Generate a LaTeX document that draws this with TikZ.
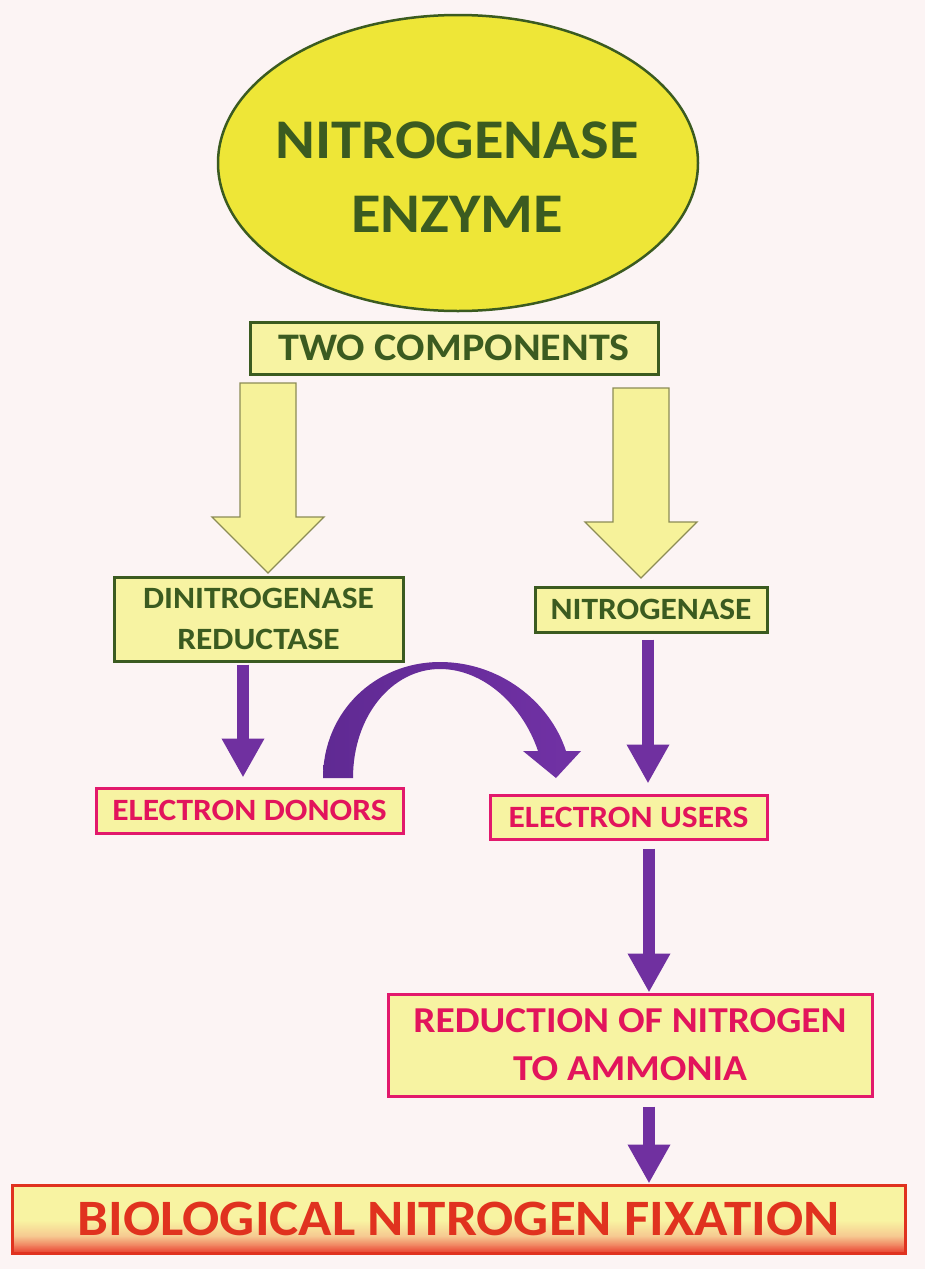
\documentclass[tikz,border=0pt]{standalone}
\usepackage{fontspec}
\setmainfont{Carlito}[FakeStretch=1.08]
\usetikzlibrary{arrows.meta,shapes.geometric,calc}
\definecolor{bgpink}{HTML}{FCF4F4}
\definecolor{dgreen}{HTML}{3B5B20}
\definecolor{eyellow}{HTML}{EEE637}
\definecolor{lyellow}{HTML}{F7F3A2}
\definecolor{ayellow}{HTML}{F6F29A}
\definecolor{aborder}{HTML}{8C8C55}
\definecolor{mborder}{HTML}{E2196C}
\definecolor{mtext}{HTML}{E2145C}
\definecolor{purp}{HTML}{7030A0}
\definecolor{purpdark}{HTML}{57268A}
\definecolor{purplight}{HTML}{7A35AE}
\definecolor{bred}{HTML}{E0321F}
\definecolor{bbot}{HTML}{E8402E}
\definecolor{bmid}{HTML}{F07A5A}
\definecolor{bmid2}{HTML}{F6C890}
\definecolor{btop}{HTML}{F8F3A2}
\pgfdeclarehorizontalshading{curveshade}{100bp}{color(0bp)=(purpdark); color(100bp)=(purplight)}
\tikzset{
  gbox/.style={draw=dgreen, line width=3pt, fill=lyellow, inner sep=0pt, text=dgreen, align=center},
  mbox/.style={draw=mborder, line width=3pt, fill=lyellow, inner sep=0pt, text=mtext, align=center},
  parrow/.style={draw=purp, line width=12pt, -{Triangle[width=40pt,length=39pt]}},
  yarr/.style={fill=ayellow, draw=aborder, line width=1.3pt, line join=miter},
}
\begin{document}
\begin{tikzpicture}[x=1pt,y=-1pt]
\fill[bgpink] (0,0) rectangle (925,1269);
\useasboundingbox (0,0) rectangle (925,1269);

% enzyme ellipse
\node[ellipse, draw=dgreen, line width=2.5pt, fill=eyellow, minimum width=480pt, minimum height=296pt, inner sep=0pt] (enz) at (458,163) {};
\node[font=\bfseries\fontsize{56}{74}\selectfont, text=dgreen, align=center, inner sep=0pt] (enzt) at (457,177) {NITROGENASE\\ENZYME};

% two components
\node[gbox, minimum width=408pt, minimum height=52pt, font=\bfseries\fontsize{39}{48}\selectfont] (tc) at (454,348) {TWO COMPONENTS};

% yellow block arrows
\coordinate (yal) at (268,383);
\coordinate (yar) at (641,388);
\draw[yarr] (yal) ++(-28,0) -- ++(56,0) -- ++(0,134) -- ++(28,0) -- ++(-56,56) -- ++(-56,-56) -- ++(28,0) -- cycle;
\draw[yarr] (yar) ++(-28,0) -- ++(56,0) -- ++(0,134) -- ++(28,0) -- ++(-56,56) -- ++(-56,-56) -- ++(28,0) -- cycle;

% second row
\node[gbox, minimum width=289pt, minimum height=84pt, font=\bfseries\fontsize{31}{41}\selectfont] (dr) at (258.5,619) {DINITROGENASE\\REDUCTASE};
\node[gbox, minimum width=232pt, minimum height=45pt, font=\bfseries\fontsize{31}{41}\selectfont] (ng) at (651,609.5) {NITROGENASE};

% electron boxes
\node[mbox, minimum width=307pt, minimum height=45pt, font=\bfseries\fontsize{31}{41}\selectfont] (ed) at (249.5,810.5) {ELECTRON DONORS};
\node[mbox, minimum width=277pt, minimum height=44pt, font=\bfseries\fontsize{31}{41}\selectfont] (eu) at (628.5,817) {ELECTRON USERS};

% reduction box
\node[mbox, minimum width=484pt, minimum height=102pt, font=\bfseries\fontsize{36.5}{48}\selectfont] (red) at (630,1045) {REDUCTION OF NITROGEN\\TO AMMONIA};

% final box: gradient background, then framed node
\fill[btop] (12,1185) rectangle (905,1221);
\shade[top color=btop, bottom color=bmid2] (12,1220.5) rectangle (905,1236.5);
\shade[top color=bmid2, bottom color=bmid] (12,1236) rectangle (905,1246.5);
\shade[top color=bmid, bottom color=bbot] (12,1246) rectangle (905,1253);
\node[draw=bred, line width=3pt, minimum width=893pt, minimum height=68pt, inner sep=0pt, text=bred, font=\bfseries\fontsize{51}{60}\selectfont] (bnf) at (458.5,1219) {BIOLOGICAL NITROGEN FIXATION};

% purple arrows
\draw[parrow] ([yshift=-2pt]dr.south -| 243,0) -- ([yshift=9pt]ed.north -| 243,0);
\draw[parrow] ([yshift=-6pt]ng.south -| 648,0) -- ([yshift=10pt]eu.north -| 648,0);
\draw[parrow] ([yshift=-8pt]eu.south -| 649,0) -- (red.north -| 649,0);
\draw[parrow] ([yshift=-9pt]red.south -| 649,0) -- (bnf.north -| 649,0);

% curved arrow from donors to users
\shade[shading=curveshade] (323,778) .. controls (323,712) and (375,662) .. (440,662)
  .. controls (500,662) and (550,702) .. (566,751)
  -- (581,751) -- (556,778) -- (523,751) -- (538,751)
  .. controls (523,706) and (484,669) .. (440,669)
  .. controls (392,669) and (353,716) .. (353,778) -- cycle;
\end{tikzpicture}
\end{document}
